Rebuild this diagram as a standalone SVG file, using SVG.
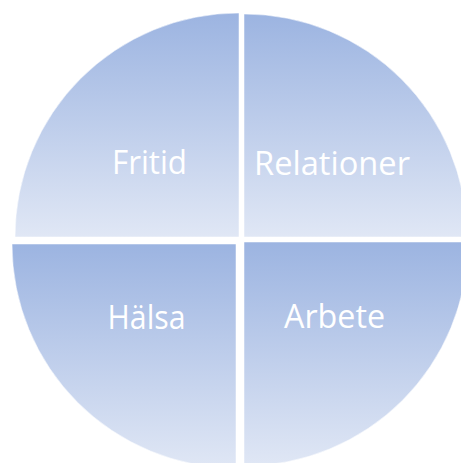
<svg xmlns="http://www.w3.org/2000/svg" width="461" height="463" viewBox="0 0 461 463">
  <style>
    .seg { fill: url(#g); stroke: #ffffff; stroke-opacity: 0.5; stroke-width: 1; }
    .lbl { font-family: "Open Sans", "Liberation Sans", sans-serif; font-size: 32px; fill: #ffffff; }
  </style>
  <defs>
    <linearGradient id="g" x1="0" y1="0" x2="0" y2="1">
      <stop offset="0" stop-color="#9cb4e1"/>
      <stop offset="1" stop-color="#e0e7f5"/>
    </linearGradient>
  </defs>
  <rect width="461" height="463" fill="#ffffff"/>
  <g id="fritid">
    <path class="seg" d="M239,237 L15,237 A224,224 0 0 1 239,13 Z"/>
    <text class="lbl" x="112" y="173.5" textLength="75" lengthAdjust="spacingAndGlyphs">Fritid</text>
  </g>
  <g id="relationer">
    <path class="seg" d="M244,237 L244,14 A223,223 0 0 1 467,237 Z"/>
    <text class="lbl" x="254" y="175" textLength="156" lengthAdjust="spacingAndGlyphs">Relationer</text>
  </g>
  <g id="halsa">
    <path class="seg" d="M236,244 L236,468 A224,224 0 0 1 12,244 Z"/>
    <text class="lbl" x="107.5" y="329" textLength="78" lengthAdjust="spacingAndGlyphs">Hälsa</text>
  </g>
  <g id="arbete">
    <path class="seg" d="M244,242 L468,242 A224,224 0 0 1 244,466 Z"/>
    <text class="lbl" x="284" y="328" textLength="101" lengthAdjust="spacingAndGlyphs">Arbete</text>
  </g>
  <g id="connectors"/>
</svg>
